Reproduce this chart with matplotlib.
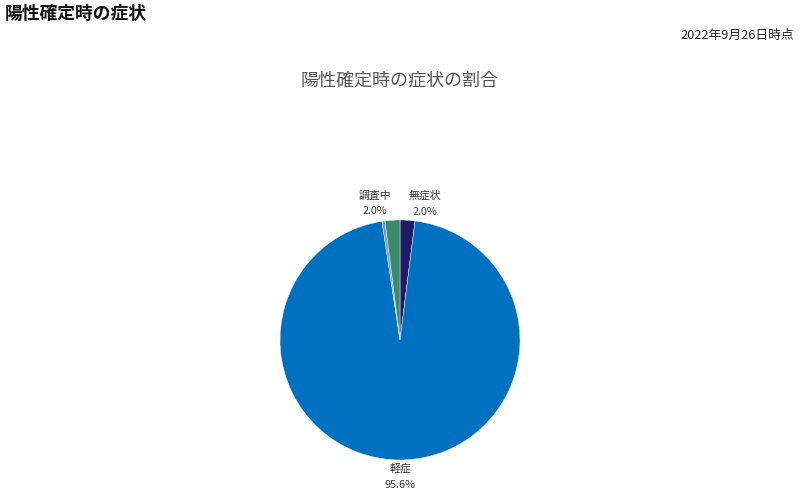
import matplotlib.pyplot as plt

plt.rcParams['font.family'] = ['Noto Sans CJK JP', 'DejaVu Sans']

# symptom shares (%), clockwise from 12 o'clock
names = ["無症状", "軽症", "中等症", "調査中"]
shares = [2.0, 95.6, 0.4, 2.0]
colors = ["#1f1b66", "#0070c0", "#6b9cc8", "#3b8a6c"]

labels = [f"{n}\n{v:.1f}%" if v >= 1 else "" for n, v in zip(names, shares)]

fig = plt.figure(figsize=(8, 4.96), dpi=100)
fig.text(0.006, 0.972, "陽性確定時の症状", fontsize=12.8, fontweight="bold",
         ha="left", va="center", color="#111111")
fig.text(0.993, 0.929, "2022年9月26日時点", fontsize=9.2,
         ha="right", va="center", color="#222222")
fig.text(0.5, 0.838, "陽性確定時の症状の割合", fontsize=13,
         ha="center", va="center", color="#555555")

ax = fig.add_axes([0.35, 0.0726, 0.3, 0.4839])
wedges, texts = ax.pie(shares, labels=labels, colors=colors, startangle=90,
                       counterclock=False, labeldistance=1.14,
                       wedgeprops={"linewidth": 0.3, "edgecolor": "white"},
                       textprops={"fontsize": 7.8, "color": "#333333",
                                  "multialignment": "center", "linespacing": 1.75})
for t, v in zip(texts, shares):
    if v > 50:
        t.set_ha("center")
        x, y = t.get_position()
        t.set_position((0, y))
ax.set_xlim(-1, 1)
ax.set_ylim(-1, 1)
ax.set_aspect("equal")
ax.axis("off")

fig.savefig("out.png", dpi=100)
